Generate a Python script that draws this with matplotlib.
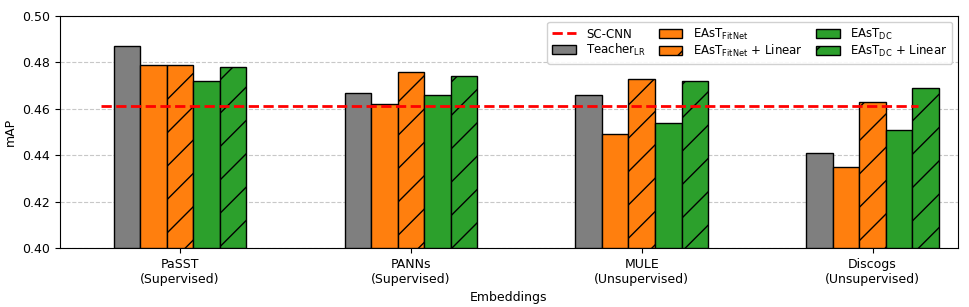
import matplotlib
matplotlib.use("Agg")
import matplotlib.pyplot as plt
import numpy as np

categories = ["PaSST\n(Supervised)", "PANNs\n(Supervised)", "MULE\n(Unsupervised)", "Discogs\n(Unsupervised)"]
teacher = [0.487, 0.467, 0.466, 0.441]
fitnet = [0.479, 0.462, 0.449, 0.435]
fitnet_lin = [0.479, 0.476, 0.473, 0.463]
dc = [0.472, 0.466, 0.454, 0.451]
dc_lin = [0.478, 0.474, 0.472, 0.469]
sccnn = 0.461

series = [
    (teacher, "#7f7f7f", "", r"Teacher$_{\mathregular{LR}}$"),
    (fitnet, "#ff7f0e", "", r"EAsT$_{\mathregular{FitNet}}$"),
    (fitnet_lin, "#ff7f0e", "/", r"EAsT$_{\mathregular{FitNet}}$ + Linear"),
    (dc, "#2ca02c", "", r"EAsT$_{\mathregular{DC}}$"),
    (dc_lin, "#2ca02c", "/", r"EAsT$_{\mathregular{DC}}$ + Linear"),
]

fig = plt.figure(figsize=(9.7, 3.07), dpi=100)
ax = fig.add_axes([60/970, 59/307, 898/970, 232/307])

x = np.arange(len(categories))
w = 0.115
handles = {}
for i, (vals, col, hatch, lab) in enumerate(series):
    b = ax.bar(x + (i - 2) * w, np.array(vals) - 0.4, w, bottom=0.4, color=col,
               edgecolor="black", linewidth=1.0, hatch=hatch, label=lab, zorder=3)
    handles[lab] = b

line = ax.hlines(sccnn, x[0] - 0.342, x[-1] + 0.195, colors="red", linestyles="--",
                 linewidth=2, zorder=4, label="SC-CNN")

ax.set_ylim(0.40, 0.50)
ax.set_xlim(-0.52, 3.37)
ax.set_yticks(np.arange(0.40, 0.501, 0.02))
ax.set_yticklabels([f"{v:.2f}" for v in np.arange(0.40, 0.501, 0.02)])
ax.set_xticks(x)
ax.set_xticklabels(categories, fontsize=9)
ax.tick_params(axis="y", labelsize=9)
ax.yaxis.grid(True, linestyle="--", color="#c8c8c8", linewidth=0.8, zorder=0)
ax.set_axisbelow(True)
ax.set_ylabel("mAP", fontsize=9)
ax.set_xlabel("Embeddings", fontsize=9)

order = [line] + [handles[s[3]] for s in series]
labels = ["SC-CNN"] + [s[3] for s in series]
ax.legend(order, labels, ncol=3, loc="upper right", fontsize=8.5, framealpha=0.9,
          columnspacing=1.1, handletextpad=0.9, borderpad=0.4, labelspacing=0.1,
          handleheight=0.8, handlelength=2.0)

fig.savefig("out.png", dpi=100)
